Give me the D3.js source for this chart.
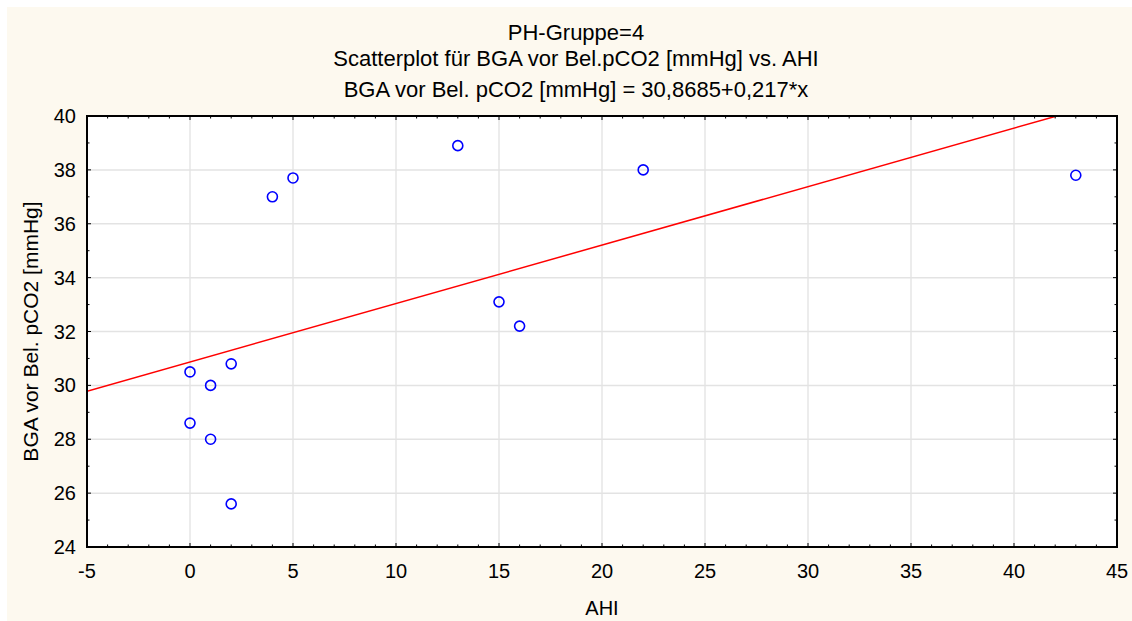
<!DOCTYPE html>
<html>
<head>
<meta charset="utf-8">
<script src="https://cdn.jsdelivr.net/npm/d3@7"></script>
<style>
  body { margin: 0; background: #fff; }
  text { font-family: "Liberation Sans", Arial, sans-serif; fill: #000; }
</style>
</head>
<body>
<svg id="scatter" width="1132" height="621"></svg>
<script>
// data
var ahi = [0, 0, 1, 1, 2, 2, 4, 5, 13, 15, 16, 22, 43];
var pco2 = [30.5, 28.6, 30.0, 28.0, 30.8, 25.6, 37.0, 37.7, 38.9, 33.1, 32.2, 38.0, 37.8];
var xTicks = [-5, 0, 5, 10, 15, 20, 25, 30, 35, 40, 45];
var yTicks = [24, 26, 28, 30, 32, 34, 36, 38, 40];
var fitIntercept = 30.8685,
    fitSlope = 0.217;
var titles = [
    "PH-Gruppe=4",
    "Scatterplot für BGA vor Bel.pCO2 [mmHg] vs. AHI",
    "BGA vor Bel. pCO2 [mmHg] = 30,8685+0,217*x"
];

var svg = d3.select("svg#scatter"),
    margin = { left: 87, top: 116, right: 15, bottom: 74 },
    width = +svg.attr("width"),
    height = +svg.attr("height"),
    innerW = width - margin.left - margin.right,
    innerH = height - margin.top - margin.bottom,
    x_scale = d3.scaleLinear().domain([-5, 45]).range([0, innerW]),
    y_scale = d3.scaleLinear().domain([24, 40]).range([innerH, 0]);

// cream background
svg.append("rect")
    .attr("x", 7).attr("y", 7)
    .attr("width", width - 7).attr("height", height - 7)
    .attr("fill", "#fdf9ef");

var g = svg.append("g")
    .attr("transform", "translate(" + margin.left + "," + margin.top + ")");

g.append("rect")
    .attr("width", innerW).attr("height", innerH)
    .attr("fill", "#fff");

// grid
g.append("g").selectAll("line").data(xTicks.slice(1, -1)).enter()
    .append("line")
    .attr("x1", d => x_scale(d)).attr("x2", d => x_scale(d))
    .attr("y1", 0).attr("y2", innerH)
    .attr("stroke", "#d9d9d9").attr("stroke-width", 1);
g.append("g").selectAll("line").data(yTicks.slice(1, -1)).enter()
    .append("line")
    .attr("y1", d => y_scale(d)).attr("y2", d => y_scale(d))
    .attr("x1", 0).attr("x2", innerW)
    .attr("stroke", "#e3e3e3").attr("stroke-width", 1.5);

// clip for the fit line
g.append("clipPath").attr("id", "clip")
    .append("rect").attr("width", innerW).attr("height", innerH);

var xs = x_scale.domain();
g.append("line")
    .attr("clip-path", "url(#clip)")
    .attr("x1", x_scale(xs[0])).attr("y1", y_scale(fitIntercept + fitSlope * xs[0]))
    .attr("x2", x_scale(xs[1])).attr("y2", y_scale(fitIntercept + fitSlope * xs[1]))
    .attr("stroke", "#ff0000").attr("stroke-width", 1.5);

// points
g.append("g").selectAll("circle").data(ahi).enter()
    .append("circle")
    .attr("cx", d => x_scale(d))
    .attr("cy", (d, i) => y_scale(pco2[i]))
    .attr("r", 5)
    .attr("fill", "none")
    .attr("stroke", "#0000ff")
    .attr("stroke-width", 1.6);

// inward ticks on all four sides
var xMinor = d3.range(-5, 45.01, 1),
    yMinor = d3.range(24, 40.01, 1);
var ticks = g.append("g").attr("stroke", "#000").attr("stroke-width", 1);
xMinor.forEach(function (v) {
    var len = v % 5 === 0 ? 4 : 2.5;
    ticks.append("line").attr("x1", x_scale(v)).attr("x2", x_scale(v))
        .attr("y1", innerH).attr("y2", innerH - len);
    ticks.append("line").attr("x1", x_scale(v)).attr("x2", x_scale(v))
        .attr("y1", 0).attr("y2", len);
});
yMinor.forEach(function (v) {
    var len = v % 2 === 0 ? 4 : 2.5;
    ticks.append("line").attr("y1", y_scale(v)).attr("y2", y_scale(v))
        .attr("x1", 0).attr("x2", len);
    ticks.append("line").attr("y1", y_scale(v)).attr("y2", y_scale(v))
        .attr("x1", innerW).attr("x2", innerW - len);
});

// frame
g.append("rect")
    .attr("width", innerW).attr("height", innerH)
    .attr("fill", "none").attr("stroke", "#000").attr("stroke-width", 2);

// tick labels
g.append("g").selectAll("text").data(xTicks).enter()
    .append("text")
    .attr("x", d => x_scale(d))
    .attr("y", innerH + 31)
    .attr("text-anchor", "middle")
    .style("font-size", "20px")
    .text(d => d);
g.append("g").selectAll("text").data(yTicks).enter()
    .append("text")
    .attr("x", -11)
    .attr("y", d => y_scale(d) + 7)
    .attr("text-anchor", "end")
    .style("font-size", "20px")
    .text(d => d);

// axis titles
g.append("text")
    .attr("x", innerW / 2)
    .attr("y", innerH + 68)
    .attr("text-anchor", "middle")
    .style("font-size", "20px")
    .text("AHI");
g.append("text")
    .attr("transform", "translate(" + (-49) + "," + (innerH / 2) + ") rotate(-90)")
    .attr("text-anchor", "middle")
    .style("font-size", "21px")
    .text("BGA vor Bel. pCO2 [mmHg]");

// chart titles
svg.append("g").selectAll("text").data(titles).enter()
    .append("text")
    .attr("x", 576)
    .attr("y", (d, i) => [40, 66, 97][i])
    .attr("text-anchor", "middle")
    .style("font-size", "22px")
    .text(d => d);
</script>
</body>
</html>
